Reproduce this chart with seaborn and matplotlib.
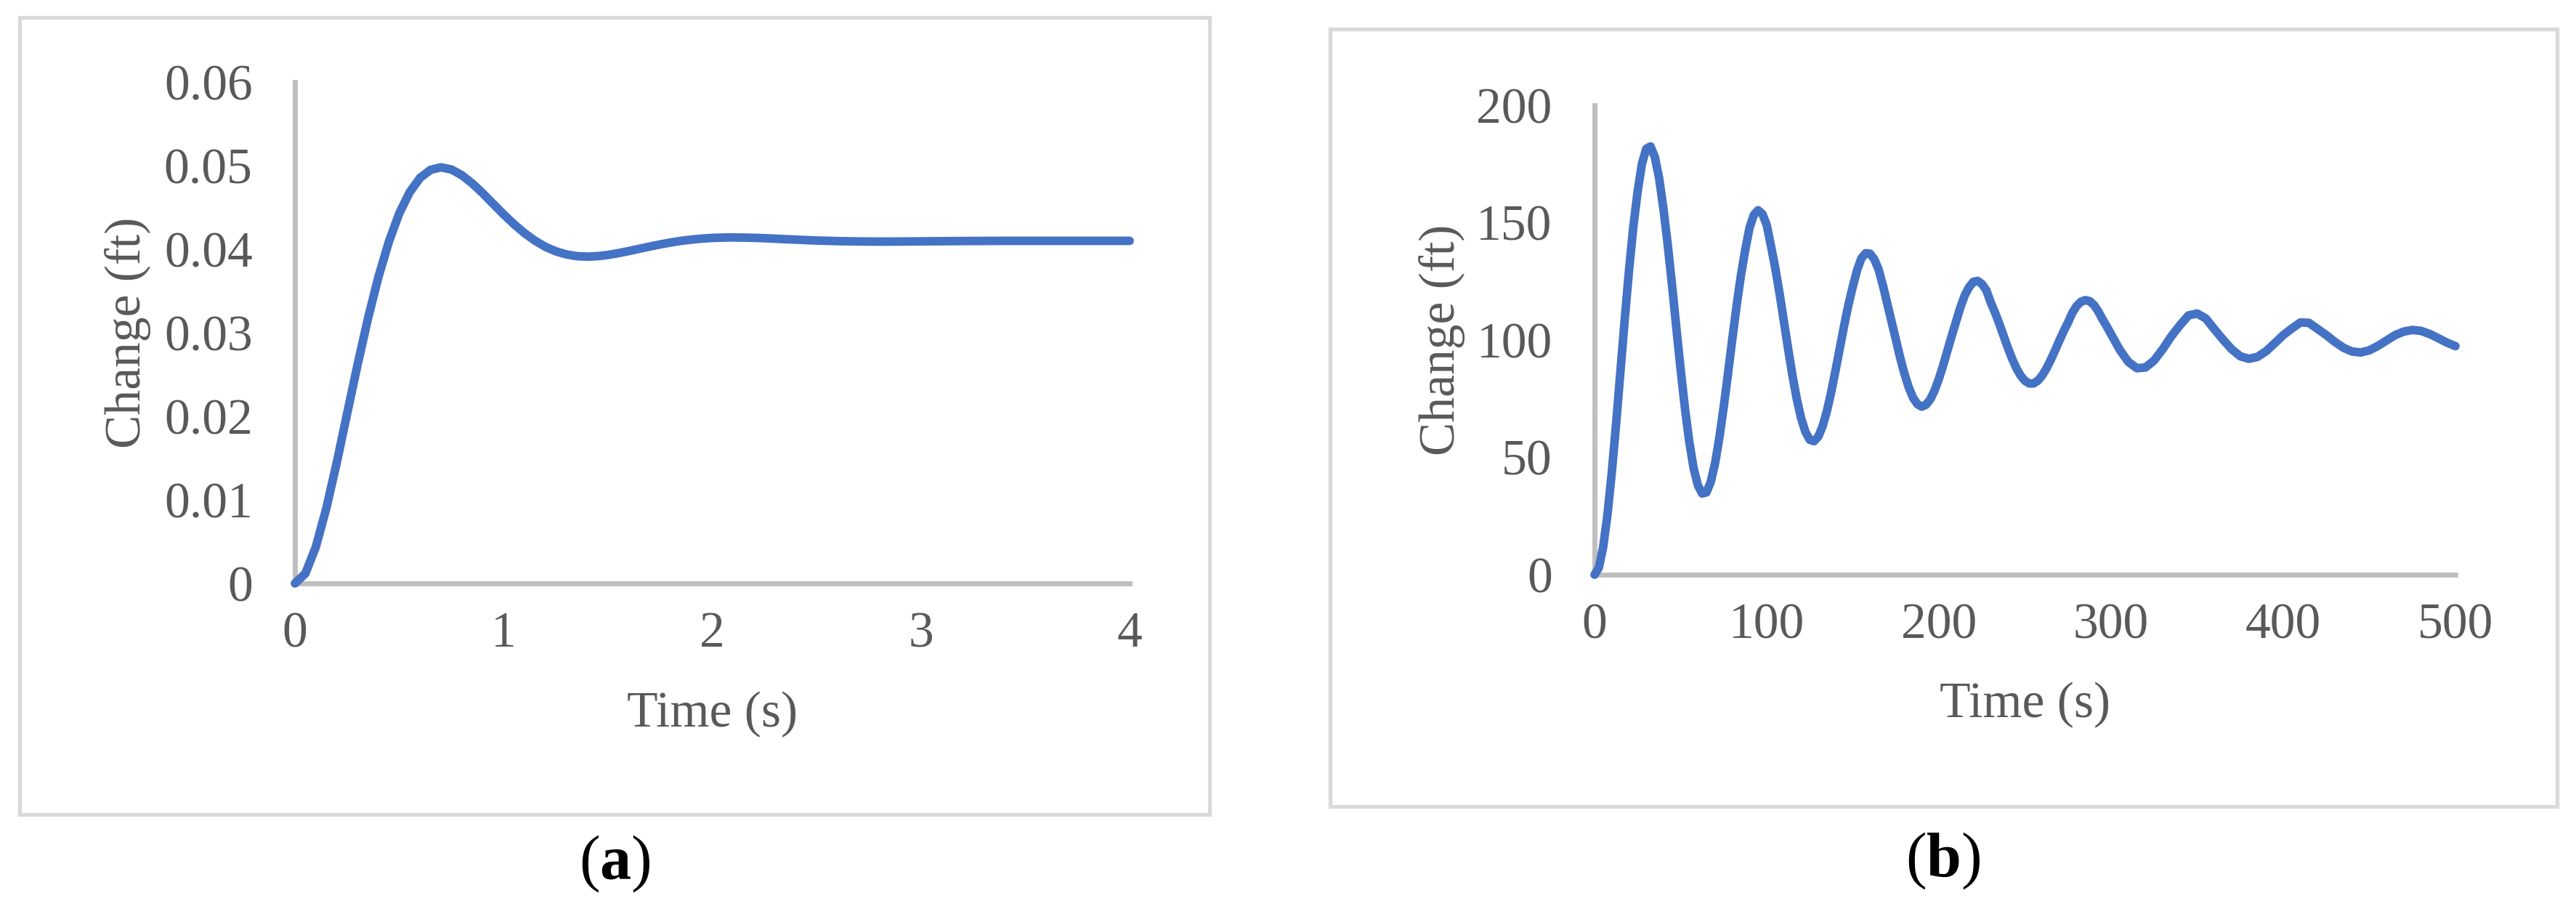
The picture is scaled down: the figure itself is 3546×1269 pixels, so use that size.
import numpy as np
import matplotlib
matplotlib.use('Agg')
import matplotlib.pyplot as plt
from matplotlib.patches import Rectangle
import seaborn as sns

# Data
time_a = [0.0, 0.05, 0.1, 0.15, 0.2, 0.25, 0.3, 0.35, 0.4, 0.45,
          0.5, 0.55, 0.6, 0.65, 0.7, 0.75, 0.8, 0.85, 0.9, 0.95,
          1.0, 1.05, 1.1, 1.15, 1.2, 1.25, 1.3, 1.35, 1.4, 1.45,
          1.5, 1.55, 1.6, 1.65, 1.7, 1.75, 1.8, 1.85, 1.9, 1.95,
          2.0, 2.05, 2.1, 2.15, 2.2, 2.25, 2.3, 2.35, 2.4, 2.45,
          2.5, 2.6, 2.7, 2.8, 2.9, 3.0, 3.1, 3.2, 3.3, 3.4,
          3.5, 3.6, 3.7, 3.8, 3.9, 4.0]
change_a = [0.0, 0.00119, 0.00436, 0.00895, 0.01442, 0.02032, 0.02617, 0.03171, 0.03667, 0.04089,
            0.04430, 0.04683, 0.04855, 0.04950, 0.04980, 0.04954, 0.04885, 0.04787, 0.04670, 0.04543,
            0.04417, 0.04299, 0.04193, 0.04102, 0.04029, 0.03975, 0.03938, 0.03917, 0.03911, 0.03917,
            0.03931, 0.03953, 0.03978, 0.04005, 0.04032, 0.04057, 0.04080, 0.04100, 0.04115, 0.04127,
            0.04135, 0.04139, 0.04141, 0.04139, 0.04136, 0.04132, 0.04126, 0.04120, 0.04115, 0.04109,
            0.04104, 0.04097, 0.04093, 0.04091, 0.04092, 0.04094, 0.04096, 0.04098, 0.04099, 0.04100,
            0.04100, 0.04100, 0.04100, 0.04100, 0.04100, 0.04100]

time_b = [0, 2.5, 5, 7.5, 10, 12.5, 15, 17.5, 20, 22.5,
          25, 27.5, 30, 32.5, 35, 37.5, 40, 42.5, 45, 47.5,
          50, 52.5, 55, 57.5, 60, 62.5, 65, 67.5, 70, 72.5,
          75, 77.5, 80, 82.5, 85, 87.5, 90, 92.5, 95, 97.5,
          100, 102.5, 105, 107.5, 110, 112.5, 115, 117.5, 120, 122.5,
          125, 127.5, 130, 132.5, 135, 137.5, 140, 142.5, 145, 147.5,
          150, 152.5, 155, 157.5, 160, 162.5, 165, 167.5, 170, 172.5,
          175, 177.5, 180, 182.5, 185, 187.5, 190, 192.5, 195, 197.5,
          200, 202.5, 205, 207.5, 210, 212.5, 215, 217.5, 220, 222.5,
          225, 227.5, 230, 232.5, 235, 237.5, 240, 242.5, 245, 247.5,
          250, 252.5, 255, 257.5, 260, 262.5, 265, 267.5, 270, 272.5,
          275, 277.5, 280, 282.5, 285, 287.5, 290, 292.5, 295, 297.5,
          300, 305, 310, 315, 320, 325, 330, 335, 340, 345,
          350, 355, 360, 365, 370, 375, 380, 385, 390, 395,
          400, 405, 410, 415, 420, 425, 430, 435, 440, 445,
          450, 455, 460, 465, 470, 475, 480, 485, 490, 495, 500]
change_b = [0.0, 3.0, 11.8, 25.6, 43.5, 64.2, 86.3, 108.6, 129.6, 148.2,
            163.2, 175.0, 181.5, 182.5, 178.0, 169.0, 156.0, 140.6, 123.4, 105.2,
            87.4, 70.9, 56.7, 45.5, 38.1, 34.6, 35.1, 39.6, 47.5, 58.4,
            71.4, 85.7, 100.4, 114.6, 127.5, 138.3, 147.8, 153.3, 155.3, 153.7,
            149.0, 140.0, 130.5, 119.6, 107.8, 95.9, 84.6, 74.7, 66.6, 60.8,
            57.5, 56.9, 58.9, 63.4, 69.9, 78.0, 87.2, 96.8, 106.3, 115.2,
            122.8, 129.8, 134.9, 137.0, 136.8, 134.4, 130.0, 123.2, 115.5, 107.9,
            100.1, 92.5, 85.6, 79.8, 75.4, 72.7, 71.6, 72.4, 74.7, 78.5,
            83.5, 89.3, 95.6, 101.9, 107.9, 114.0, 119.0, 122.5, 124.8, 125.2,
            123.9, 121.3, 116.2, 111.9, 107.1, 101.9, 96.8, 92.1, 88.0, 84.8,
            82.6, 81.5, 81.5, 82.7, 84.9, 87.9, 91.6, 95.6, 99.8, 103.8,
            107.5, 111.6, 114.5, 116.3, 117.0, 116.6, 115.0, 112.3, 108.9, 105.8,
            102.5, 95.9, 90.7, 88.0, 88.3, 91.3, 96.1, 101.6, 106.3, 110.5,
            111.3, 109.2, 104.6, 100.2, 96.1, 93.1, 92.0, 92.8, 95.2, 98.6,
            102.1, 104.9, 107.5, 107.3, 104.7, 102.1, 99.2, 96.7, 95.1, 94.7,
            95.6, 97.5, 99.8, 102.1, 103.6, 104.3, 103.9, 102.6, 100.8, 98.9, 97.4]

xticks_a = [0, 1, 2, 3, 4]
yticks_a = [0, 0.01, 0.02, 0.03, 0.04, 0.05, 0.06]
ylabels_a = ['0', '0.01', '0.02', '0.03', '0.04', '0.05', '0.06']
xticks_b = [0, 100, 200, 300, 400, 500]
yticks_b = [0, 50, 100, 150, 200]

sns.set_style('white')
plt.rcParams['font.family'] = ['Liberation Serif', 'DejaVu Serif']
plt.rcParams['mathtext.fontset'] = 'custom'
plt.rcParams['mathtext.rm'] = 'Liberation Serif'
plt.rcParams['mathtext.bf'] = 'Liberation Serif:bold'

BLUE = '#4472C4'
GREY_TXT = '#595959'
AXIS_C = '#BFBFBF'
BOX_C = '#D9D9D9'
FS = 50

W, H = 3546, 1269
fig = plt.figure(figsize=(W / 100, H / 100), dpi=100)

# chart frames
fig.patches.append(Rectangle((26.5 / W, 1 - 1120.5 / H), (1665 - 26.5) / W, (1120.5 - 24) / H,
                             transform=fig.transFigure, fill=False, edgecolor=BOX_C, lw=3.8))
fig.patches.append(Rectangle((1831.5 / W, 1 - 1110 / H), (3519.5 - 1831.5) / W, (1110 - 39.5) / H,
                             transform=fig.transFigure, fill=False, edgecolor=BOX_C, lw=3.8))

ax_a = fig.add_axes([406 / W, 1 - 803 / H, 1149 / W, 690 / H])
ax_b = fig.add_axes([2195 / W, 1 - 791 / H, 1185 / W, 646 / H])

sns.lineplot(x=time_a, y=change_a, ax=ax_a, color=BLUE, linewidth=8.5, zorder=3, clip_on=False)
sns.lineplot(x=time_b, y=change_b, ax=ax_b, color=BLUE, linewidth=8.5, zorder=3, clip_on=False)

ax_a.set_xlim(0, 4)
ax_a.set_ylim(0, 0.06)
ax_a.set_xticks(xticks_a)
ax_a.set_yticks(yticks_a)
ax_a.set_yticklabels(ylabels_a)

ax_b.set_xlim(0, 500)
ax_b.set_ylim(0, 200)
ax_b.set_xticks(xticks_b)
ax_b.set_yticks(yticks_b)

for ax, ylab_x, xlab_y in [(ax_a, -0.200, -0.262), (ax_b, -0.177, -0.277)]:
    ax.spines[['top', 'right']].set_visible(False)
    for s in ['left', 'bottom']:
        ax.spines[s].set_color(AXIS_C)
        ax.spines[s].set_linewidth(5)
    ax.tick_params(axis='both', length=0, labelsize=FS, labelcolor=GREY_TXT)
    ax.tick_params(axis='x', pad=28)
    ax.tick_params(axis='y', pad=42)
    ax.set_xlabel('Time (s)', fontsize=FS, color=GREY_TXT)
    ax.set_ylabel('Change (ft)', fontsize=FS, color=GREY_TXT)
    ax.xaxis.label.set_va('center')
    ax.yaxis.label.set_va('center')
    ax.xaxis.set_label_coords(0.5, xlab_y)
    ax.yaxis.set_label_coords(ylab_x, 0.5)
    ax.grid(False)

fig.text(846 / W, 1 - 1189 / H, r'($\mathbf{a}$)', ha='center', va='center', fontsize=62, color='black')
fig.text(2675 / W, 1 - 1185 / H, r'($\mathbf{b}$)', ha='center', va='center', fontsize=62, color='black')

fig.savefig('out.png', dpi=100)
